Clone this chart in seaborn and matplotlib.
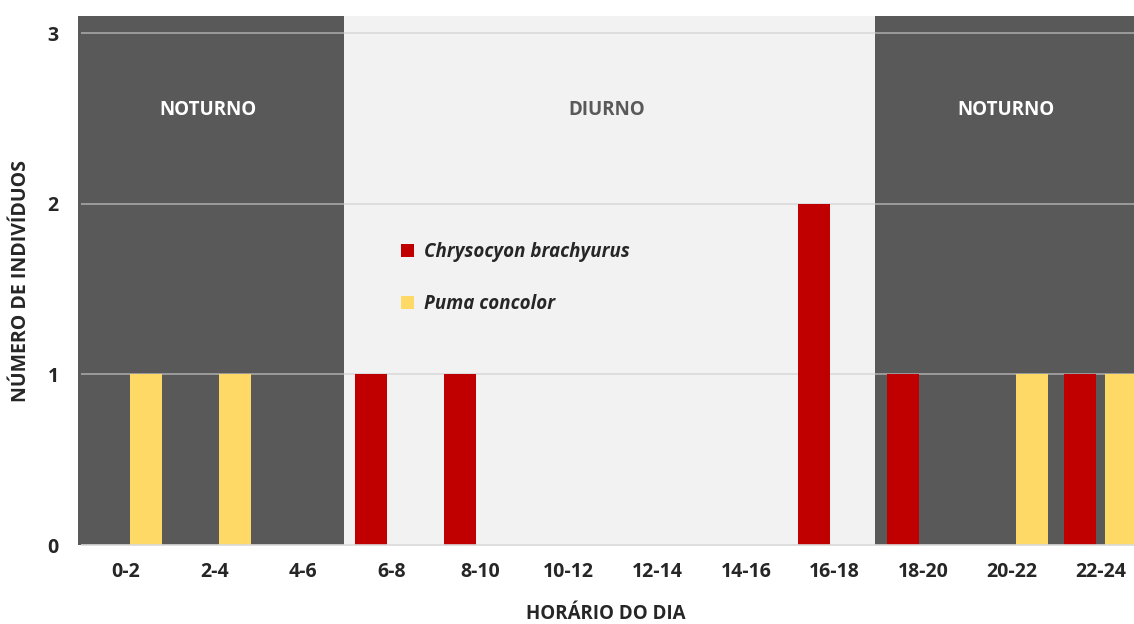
import matplotlib
matplotlib.use("Agg")
import matplotlib.pyplot as plt
import seaborn as sns
import pandas as pd

categories = ["0-2", "2-4", "4-6", "6-8", "8-10", "10-12", "12-14", "14-16",
              "16-18", "18-20", "20-22", "22-24"]
chrysocyon = [0, 0, 0, 1, 1, 0, 0, 0, 2, 1, 0, 1]
puma = [1, 1, 0, 0, 0, 0, 0, 0, 0, 0, 1, 1]
series_names = ["Chrysocyon brachyurus", "Puma concolor"]
y_ticks = [0, 1, 2, 3]
period_labels = ["NOTURNO", "DIURNO", "NOTURNO"]
period_spans = [(0, 3), (3, 9), (9, 12)]  # category index ranges

sns.set_theme(style="white")
plt.rcParams["font.family"] = ["Open Sans", "DejaVu Sans"]

df = pd.DataFrame({
    "cat": categories * 2,
    "val": chrysocyon + puma,
    "sp": [series_names[0]] * len(categories) + [series_names[1]] * len(categories),
})

fig = plt.figure(figsize=(11.34, 6.24), dpi=100)
ax = fig.add_axes([0.0688, 0.1266, 0.9407, 0.8474])

XL = -0.54
# background period shading
dark, light = "#595959", "#f2f2f2"
colors = [dark, light, dark]
for (a, b), c in zip(period_spans, colors):
    ax.axvspan(a + XL, b + XL, color=c, zorder=0, lw=0)

# gridlines
for y in y_ticks[1:]:
    for (a, b), c in zip(period_spans, colors):
        gc = "#a6a6a6" if c == dark else "#d9d9d9"
        ax.hlines(y, a + XL + (0.03 if a == 0 else 0), b + XL, color=gc, lw=1.2, zorder=1)
ax.hlines(0, XL + 0.03, 11.6, color="#d9d9d9", lw=1.2, zorder=3, clip_on=False)

sns.barplot(data=df, x="cat", y="val", hue="sp", order=categories,
            hue_order=series_names,
            palette={series_names[0]: "#c00000", series_names[1]: "#ffd966"},
            width=0.925, gap=0.22, ax=ax, zorder=2, errorbar=None,
            saturation=1, linewidth=0)

ax.set_xlim(XL, 11.5)
ax.set_ylim(0, 3.1)
ax.set_yticks(y_ticks)
ax.set_yticklabels([str(t) for t in y_ticks], fontsize=14, fontweight="bold")
ax.set_xticks(range(len(categories)))
ax.set_xticklabels(categories, fontsize=14, fontweight="bold")
ax.tick_params(axis="x", pad=12, length=0)
ax.tick_params(axis="y", pad=14, length=0)
for s in ax.spines.values():
    s.set_visible(False)
ax.set_xlabel("")
ax.set_ylabel("NÚMERO DE INDIVÍDUOS", fontsize=14, fontweight="bold", labelpad=12)
fig.text(0.534, 0.0, "HORÁRIO DO DIA", ha="center", va="bottom",
         fontsize=13.5, fontweight="bold")

# period labels
for (a, b), lab, c in zip(period_spans, period_labels, colors):
    ax.text((a + b - 1) / 2 - 0.07, 2.55, lab, ha="center", va="center",
            fontsize=13.5, fontweight="bold",
            color="white" if c == dark else "#595959")

handles, labels = ax.get_legend_handles_labels()
leg = ax.legend(handles, labels, loc="upper left", bbox_to_anchor=(0.287, 0.605),
                frameon=False, handlelength=0.7, handleheight=0.7,
                handletextpad=0.5, labelspacing=1.7,
                prop={"style": "italic", "weight": "bold", "size": 13.5})

fig.savefig("out.png", dpi=100)
